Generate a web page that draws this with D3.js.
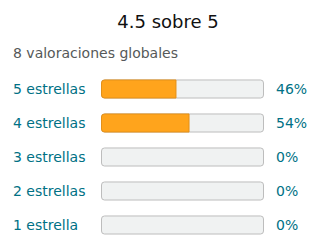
<!DOCTYPE html>
<html>
<head>
<meta charset="utf-8">
<script src="https://cdn.jsdelivr.net/npm/d3@7"></script>
<style>
  body { margin: 0; background: #fff; }
  text { font-family: "DejaVu Sans", sans-serif; }
</style>
</head>
<body>
<div id="grafico"></div>
<script>
// datos de las valoraciones
var titulo = "4.5 sobre 5";
var subtitulo = "8 valoraciones globales";
var etiquetas = ["5 estrellas", "4 estrellas", "3 estrellas", "2 estrellas", "1 estrella"];
var porcentajes = [46, 54, 0, 0, 0];

var width = 320, height = 252;

var svg = d3.select("#grafico")
    .append("svg")
    .attr("width", width)
    .attr("height", height);

// titulo
svg.append("text")
    .attr("x", 168)
    .attr("y", 28)
    .attr("text-anchor", "middle")
    .style("font-size", "18px")
    .style("fill", "#111")
    .text(titulo);

svg.append("text")
    .attr("x", 13)
    .attr("y", 58)
    .style("font-size", "14px")
    .style("fill", "#565959")
    .text(subtitulo);

// escalas
var y = d3.scaleBand()
    .domain(etiquetas)
    .range([72, 242])
    .paddingInner(0.44)
    .paddingOuter(0.22);

var x = d3.scaleLinear()
    .domain([0, 100])
    .range([101, 264]);

var filas = svg.selectAll(".fila")
    .data(etiquetas.map((e, i) => ({ etiqueta: e, pct: porcentajes[i] })))
    .enter()
    .append("g")
    .attr("class", "fila");

// fondo de la barra
filas.append("rect")
    .attr("x", x(0) + 0.5)
    .attr("y", d => y(d.etiqueta) + 0.5)
    .attr("width", x(100) - x(0) - 1)
    .attr("height", y.bandwidth() - 1)
    .attr("rx", 3)
    .style("fill", "#F0F2F2")
    .style("stroke", "#BDBDBD");

// relleno naranja
filas.filter(d => d.pct > 0)
    .append("path")
    .attr("d", function (d) {
        var x0 = x(0) + 0.5, y0 = y(d.etiqueta) + 0.5;
        var w = x(d.pct) - x(0) - 0.5, h = y.bandwidth() - 1, r = 3;
        return "M" + (x0 + r) + "," + y0 + "H" + (x0 + w) + "V" + (y0 + h) + "H" + (x0 + r) +
            "A" + r + "," + r + " 0 0 1 " + x0 + "," + (y0 + h - r) + "V" + (y0 + r) +
            "A" + r + "," + r + " 0 0 1 " + (x0 + r) + "," + y0 + "Z";
    })
    .style("fill", "#FFA41C")
    .style("stroke", "#E3901A");

// etiquetas
filas.append("text")
    .attr("x", 13)
    .attr("y", d => y(d.etiqueta) + y.bandwidth() / 2)
    .attr("dy", "0.36em")
    .style("font-size", "14px")
    .style("fill", "#007185")
    .text(d => d.etiqueta);

filas.append("text")
    .attr("x", 276)
    .attr("y", d => y(d.etiqueta) + y.bandwidth() / 2)
    .attr("dy", "0.36em")
    .style("font-size", "14px")
    .style("fill", "#007185")
    .text(d => d.pct + "%");
</script>
</body>
</html>
